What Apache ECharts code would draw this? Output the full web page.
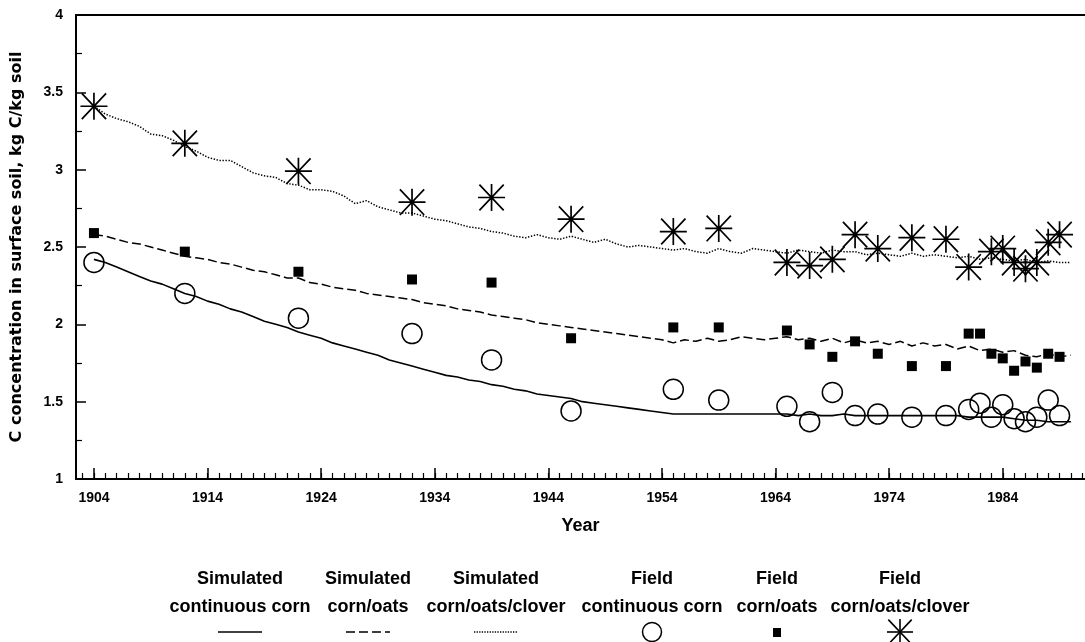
<!DOCTYPE html>
<html>
<head>
<meta charset="utf-8">
<script src="https://cdn.jsdelivr.net/npm/echarts@6/dist/echarts.min.js"></script>
<style>
  html, body { margin: 0; padding: 0; background: #fff; }
  #chart { width: 1085px; height: 642px; }
</style>
</head>
<body>
<div id="chart"></div>
<script>
// simulated series, one value per year from 1904 to 1990
var simStartYear = 1904;
var simCorn = [2.42, 2.40, 2.37, 2.34, 2.31, 2.28, 2.26, 2.23, 2.20, 2.18,
               2.15, 2.13, 2.10, 2.08, 2.05, 2.02, 2.00, 1.98, 1.95, 1.93,
               1.91, 1.88, 1.86, 1.84, 1.82, 1.80, 1.77, 1.75, 1.73, 1.71,
               1.69, 1.67, 1.66, 1.64, 1.63, 1.61, 1.60, 1.58, 1.57, 1.55,
               1.54, 1.53, 1.52, 1.50, 1.49, 1.48, 1.47, 1.46, 1.45, 1.44,
               1.43, 1.42, 1.42, 1.42, 1.42, 1.42, 1.42, 1.42, 1.42, 1.42,
               1.42, 1.42, 1.41, 1.42, 1.41, 1.41, 1.42, 1.41, 1.41, 1.41,
               1.41, 1.41, 1.41, 1.41, 1.41, 1.41, 1.41, 1.40, 1.40, 1.40,
               1.40, 1.39, 1.38, 1.38, 1.37, 1.37, 1.37];
var simOats = [2.58, 2.57, 2.55, 2.53, 2.52, 2.50, 2.48, 2.46, 2.44, 2.43,
               2.42, 2.40, 2.39, 2.37, 2.35, 2.34, 2.32, 2.30, 2.30, 2.27,
               2.26, 2.24, 2.23, 2.22, 2.20, 2.19, 2.18, 2.17, 2.16, 2.14,
               2.13, 2.12, 2.10, 2.09, 2.08, 2.06, 2.05, 2.04, 2.03, 2.01,
               2.00, 1.99, 1.98, 1.97, 1.96, 1.95, 1.94, 1.93, 1.92, 1.91,
               1.90, 1.88, 1.90, 1.89, 1.91, 1.89, 1.90, 1.92, 1.91, 1.90,
               1.91, 1.92, 1.90, 1.91, 1.89, 1.91, 1.88, 1.90, 1.88, 1.89,
               1.87, 1.89, 1.86, 1.88, 1.86, 1.87, 1.84, 1.86, 1.83, 1.84,
               1.82, 1.83, 1.80, 1.79, 1.81, 1.79, 1.80];
var simClover = [3.41, 3.36, 3.33, 3.31, 3.28, 3.23, 3.22, 3.19, 3.15, 3.12,
                 3.08, 3.06, 3.06, 3.02, 2.98, 2.96, 2.95, 2.91, 2.90, 2.87,
                 2.87, 2.86, 2.83, 2.78, 2.80, 2.76, 2.74, 2.72, 2.72, 2.70,
                 2.68, 2.67, 2.65, 2.63, 2.62, 2.60, 2.59, 2.57, 2.56, 2.58,
                 2.56, 2.55, 2.57, 2.55, 2.53, 2.55, 2.52, 2.50, 2.51, 2.50,
                 2.49, 2.48, 2.49, 2.47, 2.46, 2.49, 2.47, 2.46, 2.49, 2.48,
                 2.47, 2.46, 2.48, 2.47, 2.46, 2.48, 2.47, 2.47, 2.45, 2.46,
                 2.45, 2.44, 2.46, 2.44, 2.45, 2.44, 2.43, 2.44, 2.42, 2.43,
                 2.42, 2.41, 2.42, 2.40, 2.41, 2.40, 2.40];

// field measurements
var fieldYears  = [1904, 1912, 1922, 1932, 1939, 1946, 1955, 1959, 1965, 1967, 1969, 1971,
                   1973, 1976, 1979, 1981, 1982, 1983, 1984, 1985, 1986, 1987, 1988, 1989];
var fieldCorn   = [2.40, 2.20, 2.04, 1.94, 1.77, 1.44, 1.58, 1.51, 1.47, 1.37, 1.56, 1.41,
                   1.42, 1.40, 1.41, 1.45, 1.49, 1.40, 1.48, 1.39, 1.37, 1.40, 1.51, 1.41];
var fieldOats   = [2.59, 2.47, 2.34, 2.29, 2.27, 1.91, 1.98, 1.98, 1.96, 1.87, 1.79, 1.89,
                   1.81, 1.73, 1.73, 1.94, 1.94, 1.81, 1.78, 1.70, 1.76, 1.72, 1.81, 1.79];
var fieldClover = [3.41, 3.17, 2.99, 2.79, 2.82, 2.68, 2.60, 2.62, 2.40, 2.38, 2.42, 2.58,
                   2.49, 2.56, 2.55, 2.37, null, 2.47, 2.49, 2.40, 2.36, 2.40, 2.53, 2.58];

var majorYears = [1904, 1914, 1924, 1934, 1944, 1954, 1964, 1974, 1984];
var minorYears = [];
for (var y = 1903; y <= 1991; y++) minorYears.push(y);

var legendTop    = ['Simulated', 'Simulated', 'Simulated', 'Field', 'Field', 'Field'];
var legendBottom = ['continuous corn', 'corn/oats', 'corn/oats/clover', 'continuous corn', 'corn/oats', 'corn/oats/clover'];

var starPath = 'path://M0,-1L0,1M-1,0L1,0M-0.9,-0.95L0.9,0.95M-0.9,0.95L0.9,-0.95';
var FONT = '"Liberation Sans", Arial, sans-serif';

function simPairs(arr)
{
    return arr.map(function(v, i) { return [simStartYear + i, v]; });
}
function fieldPairs(arr)
{
    var out = [];
    arr.forEach(function(v, i) { if(v !== null) out.push([fieldYears[i], v]); });
    return out;
}

var xMin = 1902.42, xMax = 1991.24;

var chart = echarts.init(document.getElementById('chart'), null, {renderer: 'canvas'});

// legend drawn as graphic: two text rows with the sample mark below
var legendX = [240, 368, 496, 652, 777, 900];
var graphics = [];
legendX.forEach(function(x, i)
{
    graphics.push({type: 'text', x: x, y: 579, style: {text: legendTop[i], textAlign: 'center', textVerticalAlign: 'middle', font: 'bold 18px ' + FONT, fill: '#000'}});
    graphics.push({type: 'text', x: x, y: 607, style: {text: legendBottom[i], textAlign: 'center', textVerticalAlign: 'middle', font: 'bold 18px ' + FONT, fill: '#000'}});
});
var lineStyleBase = {stroke: '#000', lineWidth: 1.6};
graphics.push({type: 'line', shape: {x1: legendX[0] - 22, y1: 632, x2: legendX[0] + 22, y2: 632}, style: lineStyleBase});
graphics.push({type: 'line', shape: {x1: legendX[1] - 22, y1: 632, x2: legendX[1] + 22, y2: 632}, style: {stroke: '#000', lineWidth: 1.5, lineDash: [9, 4]}});
graphics.push({type: 'line', shape: {x1: legendX[2] - 22, y1: 632, x2: legendX[2] + 22, y2: 632}, style: {stroke: '#000', lineWidth: 1.3, lineDash: [1.3, 1.3]}});
graphics.push({type: 'circle', shape: {cx: legendX[3], cy: 632, r: 9.5}, style: {fill: 'none', stroke: '#000', lineWidth: 1.5}});
graphics.push({type: 'rect', shape: {x: legendX[4] - 4, y: 628, width: 8, height: 9}, style: {fill: '#000'}});
// legend star: four strokes
var sx = legendX[5], sy = 632, sr = 13;
[[0, -sr, 0, sr], [-sr, 0, sr, 0], [-sr * 0.9, -sr * 0.95, sr * 0.9, sr * 0.95], [-sr * 0.9, sr * 0.95, sr * 0.9, -sr * 0.95]].forEach(function(s)
{
    graphics.push({type: 'line', shape: {x1: sx + s[0], y1: sy + s[1], x2: sx + s[2], y2: sy + s[3]}, style: lineStyleBase});
});

var option = {
    animation: false,
    backgroundColor: '#fff',
    grid: {left: 76, top: 15, right: 0, bottom: 163},
    xAxis: [
        {
            type: 'value',
            min: xMin,
            max: xMax,
            position: 'bottom',
            name: 'Year',
            nameLocation: 'middle',
            nameGap: 38,
            nameTextStyle: {fontFamily: FONT, fontWeight: 'bold', fontSize: 18, color: '#000'},
            axisLine: {onZero: false, lineStyle: {color: '#000', width: 2}},
            axisTick: {inside: true, length: 11, customValues: majorYears, lineStyle: {color: '#000', width: 1.5}},
            axisLabel: {
                customValues: majorYears,
                margin: 12,
                fontFamily: FONT,
                fontWeight: 'bold',
                fontSize: 14,
                color: '#000',
                formatter: function(v) { return String(v); }
            },
            splitLine: {show: false}
        },
        {
            type: 'value',
            min: xMin,
            max: xMax,
            position: 'bottom',
            axisLine: {show: false, onZero: false},
            axisTick: {inside: true, length: 6, customValues: minorYears, lineStyle: {color: '#000', width: 1.2}},
            axisLabel: {show: false},
            splitLine: {show: false}
        },
        {
            type: 'value',
            min: xMin,
            max: xMax,
            position: 'top',
            axisLine: {onZero: false, lineStyle: {color: '#000', width: 2}},
            axisTick: {show: false},
            axisLabel: {show: false},
            splitLine: {show: false}
        }
    ],
    yAxis: {
        type: 'value',
        min: 1,
        max: 4,
        interval: 0.5,
        name: 'C concentration in surface soil, kg C/kg soil',
        nameLocation: 'middle',
        nameGap: 51,
        nameTextStyle: {fontFamily: '"DejaVu Sans", sans-serif', fontWeight: 'bold', fontSize: 16, color: '#000'},
        axisLine: {lineStyle: {color: '#000', width: 2}},
        axisTick: {inside: true, length: 10, lineStyle: {color: '#000', width: 1.5}},
        minorTick: {show: true, splitNumber: 2, length: 6, lineStyle: {color: '#000', width: 1.2}},
        axisLabel: {margin: 13, fontFamily: FONT, fontWeight: 'bold', fontSize: 14, color: '#000'},
        splitLine: {show: false},
        minorSplitLine: {show: false}
    },
    series: [
        {
            name: 'Simulated continuous corn',
            type: 'line',
            data: simPairs(simCorn),
            showSymbol: false,
            symbol: 'none',
            lineStyle: {color: '#000', width: 1.6}
        },
        {
            name: 'Simulated corn/oats',
            type: 'line',
            data: simPairs(simOats),
            showSymbol: false,
            symbol: 'none',
            lineStyle: {color: '#000', width: 1.5, type: [9, 4]}
        },
        {
            name: 'Simulated corn/oats/clover',
            type: 'line',
            data: simPairs(simClover),
            showSymbol: false,
            symbol: 'none',
            lineStyle: {color: '#000', width: 1.5, type: [1.4, 1.6]}
        },
        {
            name: 'Field continuous corn',
            type: 'scatter',
            data: fieldPairs(fieldCorn),
            symbol: 'circle',
            symbolSize: 20,
            itemStyle: {color: 'rgba(0,0,0,0)', borderColor: '#000', borderWidth: 1.5, opacity: 1}
        },
        {
            name: 'Field corn/oats',
            type: 'scatter',
            data: fieldPairs(fieldOats),
            symbol: 'rect',
            symbolSize: 10,
            itemStyle: {color: '#000', opacity: 1}
        },
        {
            name: 'Field corn/oats/clover',
            type: 'scatter',
            data: fieldPairs(fieldClover),
            symbol: starPath,
            symbolSize: 27,
            itemStyle: {color: 'rgba(0,0,0,0)', borderColor: '#000', borderWidth: 1.7, opacity: 1}
        }
    ],
    graphic: graphics
};

chart.setOption(option);
window.addEventListener('resize', chart.resize);
</script>
</body>
</html>
